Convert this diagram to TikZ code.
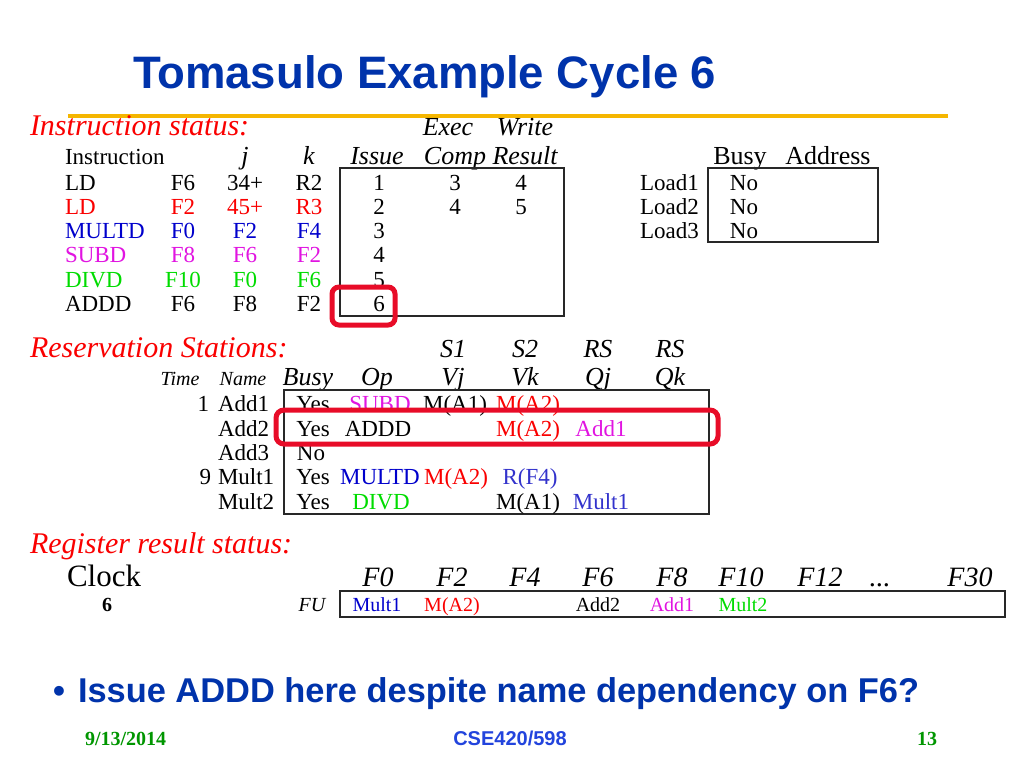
\documentclass[tikz,border=0pt]{standalone}
\usepackage{fontspec}
\setmainfont{Liberation Serif}
\newfontfamily\arialf{Liberation Sans}
\definecolor{titleblue}{RGB}{0,51,171}
\definecolor{cred}{RGB}{250,0,0}
\definecolor{cblue}{RGB}{0,0,204}
\definecolor{cmag}{RGB}{225,20,225}
\definecolor{cgreen}{RGB}{0,220,0}
\definecolor{cblueb}{RGB}{51,51,204}
\definecolor{hired}{RGB}{232,12,40}
\definecolor{gold}{RGB}{245,182,0}
\definecolor{fgreen}{RGB}{0,150,0}
\definecolor{fblue}{RGB}{34,68,221}
\definecolor{boxgray}{RGB}{40,40,40}
\begin{document}
\begin{tikzpicture}[x=1pt,y=-1pt,
  tb/.style={inner sep=0pt, outer sep=0pt, anchor=base},
  tl/.style={inner sep=0pt, outer sep=0pt, anchor=base west},
  tr/.style={inner sep=0pt, outer sep=0pt, anchor=base east},
  fb/.style={font=\fontsize{23}{23}\selectfont},
  fh/.style={font=\fontsize{26}{26}\selectfont\itshape},
  fhu/.style={font=\fontsize{26}{26}\selectfont},
  fsec/.style={font=\fontsize{30}{30}\selectfont\itshape, text=cred},
  fsm/.style={font=\fontsize{20}{20}\selectfont\itshape},
  freg/.style={font=\fontsize{20}{20}\selectfont},
  frh/.style={font=\fontsize{28}{28}\selectfont\itshape},
  tbox/.style={draw=boxgray, line width=1.5pt},
  hibox/.style={draw=hired, line width=5pt, rounded corners=8pt}
]
\useasboundingbox (0,0) rectangle (1024,768);
\fill[white] (0,0) rectangle (1024,768);

% title
\node[tl, font=\arialf\bfseries\fontsize{45.5}{45.5}\selectfont, text=titleblue] (title) at (133,88.5) {Tomasulo Example Cycle 6};
\draw[gold, line width=3.5pt] (68,116) -- (948,116);

% ---------- Instruction status ----------
\node[tl, fsec] (insttitle) at (30,135) {Instruction status:};
\node[tb, fh] (hexec) at (448,135) {Exec};
\node[tb, fh] (hwrite) at (525,135) {Write};
\node[tl, fb] (hinst) at (65,164) {Instruction};
\node[tb, fh] (hj) at (245,164) {j};
\node[tb, fh] (hk) at (309,164) {k};
\node[tb, fh] (hissue) at (377,164) {Issue};
\node[tb, fh] (hcomp) at (455,164) {Comp};
\node[tb, fh] (hresult) at (525,164) {Result};

\draw[tbox] (340,168) rectangle (564,316);

\node[tl, fb] (i1op) at (65,190) {LD};
\node[tb, fb] (i1d) at (183,190) {F6};
\node[tb, fb] (i1j) at (245,190) {34+};
\node[tb, fb] (i1k) at (309,190) {R2};
\node[tb, fb] (i1is) at (379,190) {1};
\node[tb, fb] (i1ex) at (455,190) {3};
\node[tb, fb] (i1wr) at (521,190) {4};

\node[tl, fb, text=cred] (i2op) at (65,214) {LD};
\node[tb, fb, text=cred] (i2d) at (183,214) {F2};
\node[tb, fb, text=cred] (i2j) at (245,214) {45+};
\node[tb, fb, text=cred] (i2k) at (309,214) {R3};
\node[tb, fb] (i2is) at (379,214) {2};
\node[tb, fb] (i2ex) at (455,214) {4};
\node[tb, fb] (i2wr) at (521,214) {5};

\node[tl, fb, text=cblue] (i3op) at (65,238) {MULTD};
\node[tb, fb, text=cblue] (i3d) at (183,238) {F0};
\node[tb, fb, text=cblue] (i3j) at (245,238) {F2};
\node[tb, fb, text=cblue] (i3k) at (309,238) {F4};
\node[tb, fb] (i3is) at (379,238) {3};

\node[tl, fb, text=cmag] (i4op) at (65,262) {SUBD};
\node[tb, fb, text=cmag] (i4d) at (183,262) {F8};
\node[tb, fb, text=cmag] (i4j) at (245,262) {F6};
\node[tb, fb, text=cmag] (i4k) at (309,262) {F2};
\node[tb, fb] (i4is) at (379,262) {4};

\node[tl, fb, text=cgreen] (i5op) at (65,287) {DIVD};
\node[tb, fb, text=cgreen] (i5d) at (183,287) {F10};
\node[tb, fb, text=cgreen] (i5j) at (245,287) {F0};
\node[tb, fb, text=cgreen] (i5k) at (309,287) {F6};
\node[tb, fb] (i5is) at (379,287) {5};

\node[tl, fb] (i6op) at (65,311) {ADDD};
\node[tb, fb] (i6d) at (183,311) {F6};
\node[tb, fb] (i6j) at (245,311) {F8};
\node[tb, fb] (i6k) at (309,311) {F2};
\node[tb, fb] (i6is) at (379,311) {6};

\draw[hibox, rounded corners=7pt] (332,287) rectangle (395,325);

% ---------- Load buffers ----------
\node[tb, fhu] (lbusy) at (740,164) {Busy};
\node[tb, fhu] (laddr) at (828,164) {Address};
\draw[tbox] (708,168) rectangle (878,242);
\node[tl, fb] (l1) at (640,190) {Load1};
\node[tl, fb] (l2) at (640,214) {Load2};
\node[tl, fb] (l3) at (640,238) {Load3};
\node[tb, fb] (l1b) at (744,190) {No};
\node[tb, fb] (l2b) at (744,214) {No};
\node[tb, fb] (l3b) at (744,238) {No};

% ---------- Reservation stations ----------
\node[tl, fsec] (rstitle) at (30,357) {Reservation Stations:};
\node[tb, fh] (hs1) at (453,357) {S1};
\node[tb, fh] (hs2) at (525,357) {S2};
\node[tb, fh] (hrs1) at (598,357) {RS};
\node[tb, fh] (hrs2) at (670,357) {RS};
\node[tb, fsm] (htime) at (180,385) {Time};
\node[tb, fsm] (hname) at (243,385) {Name};
\node[tb, fh] (hbusy) at (308,385) {Busy};
\node[tb, fh] (hop) at (377,385) {Op};
\node[tb, fh] (hvj) at (453,385) {Vj};
\node[tb, fh] (hvk) at (525,385) {Vk};
\node[tb, fh] (hqj) at (598,385) {Qj};
\node[tb, fh] (hqk) at (670,385) {Qk};

\draw[tbox] (284,390) rectangle (709,514);

\node[tr, fb] (r1t) at (209,411) {1};
\node[tl, fb] (r1n) at (218,411) {Add1};
\node[tb, fb] (r1b) at (313,411) {Yes};
\node[tb, fb, text=cmag] (r1op) at (380,411) {SUBD};
\node[tb, fb] (r1vj) at (455,411) {M(A1)};
\node[tb, fb, text=cred] (r1vk) at (528,411) {M(A2)};

\node[tl, fb] (r2n) at (218,436) {Add2};
\node[tb, fb] (r2b) at (313,436) {Yes};
\node[tb, fb] (r2op) at (378,436) {ADDD};
\node[tb, fb, text=cred] (r2vk) at (528,436) {M(A2)};
\node[tb, fb, text=cmag] (r2qj) at (601,436) {Add1};

\node[tl, fb] (r3n) at (218,460) {Add3};
\node[tb, fb] (r3b) at (311,460) {No};

\node[tr, fb] (r4t) at (211,484) {9};
\node[tl, fb] (r4n) at (218,484) {Mult1};
\node[tb, fb] (r4b) at (313,484) {Yes};
\node[tb, fb, text=cblue] (r4op) at (380,484) {MULTD};
\node[tb, fb, text=cred] (r4vj) at (456,484) {M(A2)};
\node[tb, fb, text=cblueb] (r4vk) at (530,484) {R(F4)};

\node[tl, fb] (r5n) at (218,509) {Mult2};
\node[tb, fb] (r5b) at (313,509) {Yes};
\node[tb, fb, text=cgreen] (r5op) at (381,509) {DIVD};
\node[tb, fb] (r5vk) at (528,509) {M(A1)};
\node[tb, fb, text=cblueb] (r5qj) at (601,509) {Mult1};

\draw[hibox] (276,410) rectangle (718,444);

% ---------- Register result status ----------
\node[tl, fsec] (regtitle) at (30,553) {Register result status:};
\node[tl, font=\fontsize{31}{31}\selectfont] (clock) at (67,586) {Clock};
\node[tb, frh] (rf0) at (378,586) {F0};
\node[tb, frh] (rf2) at (452,586) {F2};
\node[tb, frh] (rf4) at (525,586) {F4};
\node[tb, frh] (rf6) at (598,586) {F6};
\node[tb, frh] (rf8) at (672,586) {F8};
\node[tb, frh] (rf10) at (741,586) {F10};
\node[tb, frh] (rf12) at (820,586) {F12};
\node[tb, frh] (rfdots) at (880,586) {...};
\node[tb, frh] (rf30) at (970,586) {F30};

\draw[tbox] (340,591) rectangle (1005,617);
\node[tb, font=\fontsize{20}{20}\selectfont\bfseries] (clk) at (107,611) {6};
\node[tb, fsm] (fu) at (312,611) {FU};
\node[tb, freg, text=cblue] (v0) at (377,611) {Mult1};
\node[tb, freg, text=cred] (v2) at (452,611) {M(A2)};
\node[tb, freg] (v6) at (598,611) {Add2};
\node[tb, freg, text=cmag] (v8) at (672,611) {Add1};
\node[tb, freg, text=cgreen] (v10) at (743,611) {Mult2};

% ---------- bullet ----------
\node[tl, font=\arialf\bfseries\fontsize{34}{34}\selectfont, text=titleblue] (bul) at (53,702) {•};
\node[tl, font=\arialf\bfseries\fontsize{34.4}{34.4}\selectfont, text=titleblue] (btext) at (78,702) {Issue ADDD here despite name dependency on F6?};

% ---------- footer ----------
\node[tl, font=\fontsize{20}{20}\selectfont\bfseries, text=fgreen] (date) at (85,745) {9/13/2014};
\node[tb, font=\arialf\bfseries\fontsize{20}{20}\selectfont, text=fblue] (course) at (510,745) {CSE420/598};
\node[tb, font=\fontsize{20}{20}\selectfont\bfseries, text=fgreen] (page) at (927,745) {13};
\end{tikzpicture}
\end{document}
